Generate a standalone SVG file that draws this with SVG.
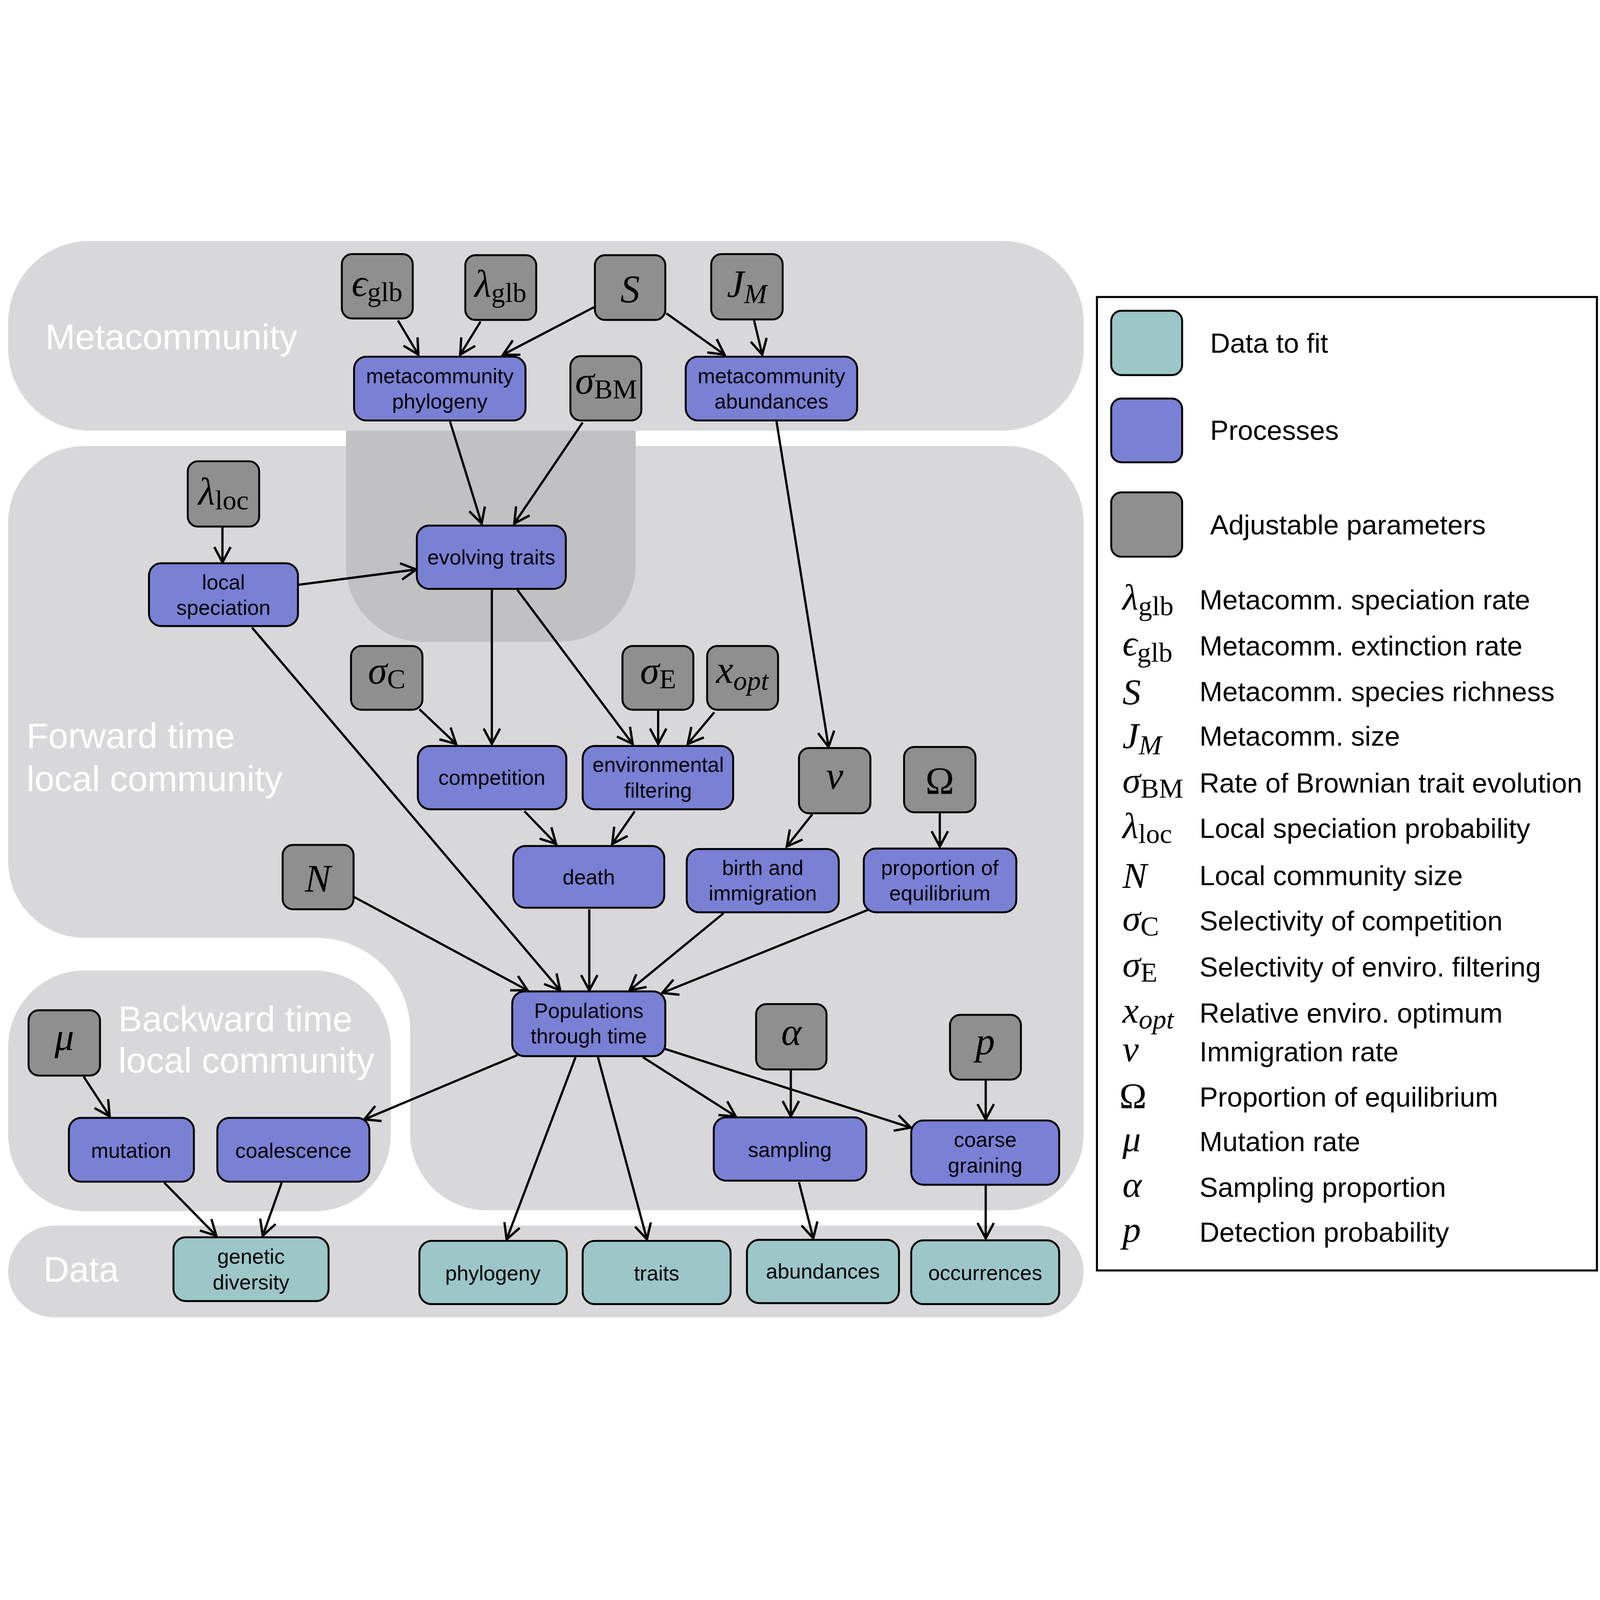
<svg xmlns="http://www.w3.org/2000/svg" width="5833" height="4166" viewBox="0 0 5833 4166">
<defs>
<style>
svg:root{width:100vw;height:100vh}
.band{fill:#d8d8da}
.ovl{fill:#c1c0c3}
.bl{font-family:"Liberation Sans",Arial,sans-serif;font-size:35px;fill:#ffffff}
.box{stroke:#000;stroke-width:1.9}
.param{fill:#8f8f8f}
.proc{fill:#7a80d4}
.data{fill:#9cc6c8}
.t{font-family:"Liberation Sans",Arial,sans-serif;font-size:20.5px;fill:#000;text-anchor:middle}
.m{font-family:"Liberation Serif","DejaVu Serif",serif;font-size:38px;fill:#000;text-anchor:middle}
.i{font-style:italic}
.sub{font-size:27px}
.lt{font-family:"Liberation Sans",Arial,sans-serif;font-size:27px;fill:#000}
.lm{font-family:"Liberation Serif","DejaVu Serif",serif;font-size:36px;fill:#000}
.edge{fill:none;stroke:#000;stroke-width:2.2;marker-end:url(#ah)}
</style>
<marker id="ah" markerUnits="userSpaceOnUse" markerWidth="22" markerHeight="22" viewBox="-18 -11 22 22" refX="0" refY="0" orient="auto"><path d="M-15,-8 L0,0 L-15,8" fill="none" stroke="#000" stroke-width="2.3"/></marker>
</defs>
<rect width="5833" height="4166" fill="#ffffff"/>
<g transform="scale(3.72)">
<g id="bands">
<rect id="band-meta" class="band" x="8" y="12" width="1054" height="186" rx="80"/>
<path id="band-forward" class="band" d="M83,213 H987 A75,75 0 0 1 1062,288 V887 A75,75 0 0 1 987,962 H477 A75,75 0 0 1 402,887 V786 A92,91 0 0 0 310,695 H83 A75,75 0 0 1 8,620 V288 A75,75 0 0 1 83,213 Z"/>
<rect id="band-backward" class="band" x="8" y="727" width="375" height="236" rx="75"/>
<rect id="band-data" class="band" x="8" y="977" width="1054" height="90" rx="45"/>
<path id="overlay" class="ovl" d="M339,198 H623 V330 A75,75 0 0 1 548,405 H414 A75,75 0 0 1 339,330 Z"/>
<text class="bl" x="44.5" y="118">Metacommunity</text>
<text class="bl" x="26" y="509">Forward time</text>
<text class="bl" x="26" y="551">local community</text>
<text class="bl" x="116" y="786.5">Backward time</text>
<text class="bl" x="116" y="827">local community</text>
<text class="bl" x="42.5" y="1032">Data</text>
</g>
<g id="connectors">
<path class="edge" d="M390,90 L410,123.5"/>
<path class="edge" d="M471,91 L451,123.5"/>
<path class="edge" d="M582,77 L493,123.5"/>
<path class="edge" d="M653,83 L710,123.5"/>
<path class="edge" d="M739,90 L747,123.5"/>
<path class="edge" d="M441,189 L472,289"/>
<path class="edge" d="M571,190 L504,289"/>
<path class="edge" d="M218,292 L218,327"/>
<path class="edge" d="M293,349 L408,334"/>
<path class="edge" d="M761,189 L812,508"/>
<path class="edge" d="M482,354 L482,505"/>
<path class="edge" d="M507,354 L620,505"/>
<path class="edge" d="M411,471 L447,505"/>
<path class="edge" d="M645,472 L645,505"/>
<path class="edge" d="M700,474 L674,505"/>
<path class="edge" d="M514,571 L545,603"/>
<path class="edge" d="M622,571 L600,603"/>
<path class="edge" d="M796,574 L771,605.5"/>
<path class="edge" d="M921,573 L921,605.5"/>
<path class="edge" d="M247,391 L549,746.5"/>
<path class="edge" d="M347,655 L517,746.5"/>
<path class="edge" d="M577.5,667 L577.5,746.5"/>
<path class="edge" d="M709,671 L617,746.5"/>
<path class="edge" d="M851,667.5 L649,749"/>
<path class="edge" d="M507,810 L357,873"/>
<path class="edge" d="M564,812 L496.5,990.5"/>
<path class="edge" d="M586,812 L634,990.5"/>
<path class="edge" d="M630,812 L721,870"/>
<path class="edge" d="M652,804 L892.5,881"/>
<path class="edge" d="M82,831 L107.5,870"/>
<path class="edge" d="M775,824 L775,870"/>
<path class="edge" d="M966,834 L966,873"/>
<path class="edge" d="M161,935 L212,987"/>
<path class="edge" d="M276,935 L257.5,987"/>
<path class="edge" d="M783,934.5 L797,989.5"/>
<path class="edge" d="M966,938 L966,989.5"/>
</g>
<g id="n-eps"><rect class="box param" x="335" y="25" width="69.5" height="63" rx="10"/><text class="m" x="369.5" y="66"><tspan class="i">&#x3F5;</tspan><tspan class="sub" dy="5">glb</tspan></text></g>
<g id="n-lambda-glb"><rect class="box param" x="456" y="26" width="69.5" height="63.5" rx="10"/><text class="m" x="490.5" y="67"><tspan class="i">λ</tspan><tspan class="sub" dy="5">glb</tspan></text></g>
<g id="n-S"><rect class="box param" x="583" y="26" width="69" height="63.5" rx="10"/><text class="m i" x="617.5" y="72">S</text></g>
<g id="n-JM"><rect class="box param" x="697" y="25" width="70" height="64" rx="10"/><text class="m i" x="732" y="67">J<tspan class="sub" dy="6">M</tspan></text></g>
<g id="n-meta-phylo"><rect class="box proc" x="347" y="125.5" width="168" height="62.5" rx="12"/><text class="t" x="431" y="151.5">metacommunity</text><text class="t" x="431" y="176.5">phylogeny</text></g>
<g id="n-sigma-bm"><rect class="box param" x="559" y="125" width="69.5" height="63" rx="10"/><text class="m" x="594" y="162"><tspan class="i">σ</tspan><tspan class="sub" dy="4.5">BM</tspan></text></g>
<g id="n-meta-abund"><rect class="box proc" x="672" y="125.5" width="168" height="62.5" rx="12"/><text class="t" x="756" y="151.5">metacommunity</text><text class="t" x="756" y="176.5">abundances</text></g>
<g id="n-lambda-loc"><rect class="box param" x="184" y="228" width="70" height="64" rx="10"/><text class="m" x="219" y="270.5"><tspan class="i">λ</tspan><tspan class="sub" dy="4.5">loc</tspan></text></g>
<g id="n-local-spec"><rect class="box proc" x="146" y="328" width="146" height="61.5" rx="12"/><text class="t" x="219" y="353.5">local</text><text class="t" x="219" y="378.5">speciation</text></g>
<g id="n-evolving"><rect class="box proc" x="408.5" y="291" width="146" height="62" rx="12"/><text class="t" x="481.5" y="329">evolving traits</text></g>
<g id="n-sigma-c"><rect class="box param" x="344" y="409" width="70" height="62.5" rx="10"/><text class="m" x="379" y="446"><tspan class="i">σ</tspan><tspan class="sub" dy="4.5">C</tspan></text></g>
<g id="n-sigma-e"><rect class="box param" x="610" y="409" width="69.5" height="62.5" rx="10"/><text class="m" x="645" y="446"><tspan class="i">σ</tspan><tspan class="sub" dy="4.5">E</tspan></text></g>
<g id="n-xopt"><rect class="box param" x="693" y="409" width="69.5" height="62.5" rx="10"/><text class="m i" x="727.5" y="445">x<tspan class="sub" dy="7">opt</tspan></text></g>
<g id="n-competition"><rect class="box proc" x="409.5" y="507" width="145.5" height="62" rx="12"/><text class="t" x="482" y="545">competition</text></g>
<g id="n-env"><rect class="box proc" x="571" y="507" width="147.5" height="62" rx="12"/><text class="t" x="645" y="532.5">environmental</text><text class="t" x="645" y="557.5">filtering</text></g>
<g id="n-nu"><rect class="box param" x="783" y="509" width="70" height="64" rx="10"/><text class="m i" x="818" y="549">ν</text></g>
<g id="n-omega"><rect class="box param" x="886" y="508" width="70" height="64" rx="10"/><text class="m" x="921" y="554">Ω</text></g>
<g id="n-N"><rect class="box param" x="277" y="604" width="69.5" height="63" rx="10"/><text class="m i" x="311.5" y="649.5">N</text></g>
<g id="n-death"><rect class="box proc" x="503" y="605" width="148" height="60.5" rx="12"/><text class="t" x="577" y="642.5">death</text></g>
<g id="n-birth"><rect class="box proc" x="673" y="608" width="149" height="62" rx="12"/><text class="t" x="747.5" y="633.5">birth and</text><text class="t" x="747.5" y="658.5">immigration</text></g>
<g id="n-proportion"><rect class="box proc" x="846.5" y="607.5" width="149.5" height="62.5" rx="12"/><text class="t" x="921" y="633.5">proportion of</text><text class="t" x="921" y="658.5">equilibrium</text></g>
<g id="n-populations"><rect class="box proc" x="502" y="747.5" width="150" height="63.5" rx="12"/><text class="t" x="577" y="773.5">Populations</text><text class="t" x="577" y="798.5">through time</text></g>
<g id="n-mu"><rect class="box param" x="28" y="766" width="70" height="64" rx="10"/><text class="m i" x="63" y="805">μ</text></g>
<g id="n-alpha"><rect class="box param" x="741" y="760" width="69" height="64" rx="10"/><text class="m i" x="775.5" y="800">α</text></g>
<g id="n-p"><rect class="box param" x="931" y="770.5" width="69.5" height="63.5" rx="10"/><text class="m i" x="965.5" y="809">p</text></g>
<g id="n-mutation"><rect class="box proc" x="67.5" y="871.5" width="122.5" height="62.5" rx="12"/><text class="t" x="128.5" y="910.5">mutation</text></g>
<g id="n-coalescence"><rect class="box proc" x="213" y="871.5" width="149" height="62.5" rx="12"/><text class="t" x="287.5" y="910.5">coalescence</text></g>
<g id="n-sampling"><rect class="box proc" x="699.5" y="871" width="149.5" height="62" rx="12"/><text class="t" x="774" y="910">sampling</text></g>
<g id="n-coarse"><rect class="box proc" x="893" y="874" width="145" height="63" rx="12"/><text class="t" x="965.5" y="900">coarse</text><text class="t" x="965.5" y="925">graining</text></g>
<g id="n-genetic"><rect class="box data" x="170" y="988.5" width="152" height="62.5" rx="12"/><text class="t" x="246" y="1014.5">genetic</text><text class="t" x="246" y="1039.5">diversity</text></g>
<g id="n-phylogeny"><rect class="box data" x="411" y="992" width="144.5" height="62" rx="12"/><text class="t" x="483" y="1031">phylogeny</text></g>
<g id="n-traits"><rect class="box data" x="571" y="992" width="145" height="62" rx="12"/><text class="t" x="643.5" y="1031">traits</text></g>
<g id="n-abundances"><rect class="box data" x="732" y="991" width="149" height="62" rx="12"/><text class="t" x="806.5" y="1029">abundances</text></g>
<g id="n-occurrences"><rect class="box data" x="893" y="991.5" width="145" height="62.5" rx="12"/><text class="t" x="965.5" y="1030.5">occurrences</text></g>
<g id="legend">
<rect x="1075" y="67" width="490" height="954" fill="#ffffff" stroke="#000" stroke-width="2"/>
<rect class="box data" x="1089" y="80.5" width="69.5" height="63" rx="10"/>
<rect class="box proc" x="1089" y="166.5" width="69.5" height="62.5" rx="10"/>
<rect class="box param" x="1089" y="258.5" width="69.5" height="63" rx="10"/>
<text class="lt" x="1186" y="121.5">Data to fit</text>
<text class="lt" x="1186" y="207">Processes</text>
<text class="lt" x="1186" y="299.5">Adjustable parameters</text>
<text class="lm" x="1100" y="373"><tspan class="i">λ</tspan><tspan class="sub" dy="6">glb</tspan></text>
<text class="lm" x="1100" y="418.5"><tspan class="i">&#x3F5;</tspan><tspan class="sub" dy="6">glb</tspan></text>
<text class="lm i" x="1100" y="466">S</text>
<text class="lm i" x="1100" y="509">J<tspan class="sub" dy="6">M</tspan></text>
<text class="lm" x="1100" y="552.5"><tspan class="i">σ</tspan><tspan class="sub" dy="5">BM</tspan></text>
<text class="lm" x="1100" y="597"><tspan class="i">λ</tspan><tspan class="sub" dy="5">loc</tspan></text>
<text class="lm i" x="1100" y="646">N</text>
<text class="lm" x="1100" y="687.7"><tspan class="i">σ</tspan><tspan class="sub" dy="5">C</tspan></text>
<text class="lm" x="1100" y="733"><tspan class="i">σ</tspan><tspan class="sub" dy="5">E</tspan></text>
<text class="lm i" x="1100" y="778">x<tspan class="sub" dy="6">opt</tspan></text>
<text class="lm i" x="1100" y="816">ν</text>
<text class="lm" x="1097" y="862">Ω</text>
<text class="lm i" x="1100" y="904">μ</text>
<text class="lm i" x="1100" y="949">α</text>
<text class="lm i" x="1100" y="992.8">p</text>
<text class="lt" x="1175.5" y="373">Metacomm. speciation rate</text>
<text class="lt" x="1175.5" y="418.5">Metacomm. extinction rate</text>
<text class="lt" x="1175.5" y="463">Metacomm. species richness</text>
<text class="lt" x="1175.5" y="506.7">Metacomm. size</text>
<text class="lt" x="1175.5" y="552.5">Rate of Brownian trait evolution</text>
<text class="lt" x="1175.5" y="597">Local speciation probability</text>
<text class="lt" x="1175.5" y="643.5">Local community size</text>
<text class="lt" x="1175.5" y="687.7">Selectivity of competition</text>
<text class="lt" x="1175.5" y="733">Selectivity of enviro. filtering</text>
<text class="lt" x="1175.5" y="778">Relative enviro. optimum</text>
<text class="lt" x="1175.5" y="816">Immigration rate</text>
<text class="lt" x="1175.5" y="860.5">Proportion of equilibrium</text>
<text class="lt" x="1175.5" y="904">Mutation rate</text>
<text class="lt" x="1175.5" y="949">Sampling proportion</text>
<text class="lt" x="1175.5" y="992.8">Detection probability</text>
</g>
</g>
</svg>
